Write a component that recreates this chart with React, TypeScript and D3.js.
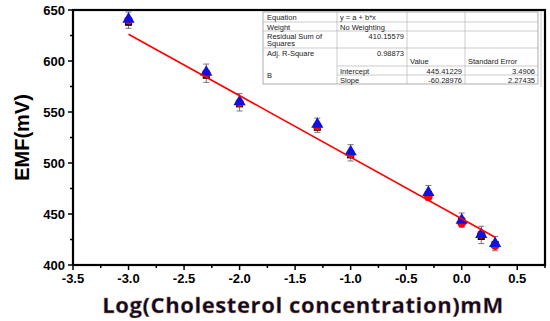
import * as d3 from "d3";

const logConc = [-3, -2.3, -2, -1.3, -1, -0.3, 0, 0.176, 0.301];
const emfBlack = [638, 586, 558, 535, 508, 469, 443, 428, 420];
const emfRed = [640, 588, 559, 536, 509, 467, 441, 430, 419];
const emfBlue = [642, 590, 561, 539, 512, 472, 445, 431, 422];
const errBars = [6, 7, 7, 5, 6, 6, 6, 7, 6];
const intercept = 445.41229;
const slope = -60.28976;
const xTicks = [-3.5, -3, -2.5, -2, -1.5, -1, -0.5, 0, 0.5];
const yTicks = [400, 450, 500, 550, 600, 650];

const W = 550, H = 321;
const L = 73, R = 545, T = 10, B = 265;

export default function App() {
  const x = d3.scaleLinear([-3.5, 0.75], [L, R]);
  const y = d3.scaleLinear([400, 650], [B, T]);
  const xMinor = d3.range(-3.5, 0.76, 0.25);
  const yMinor = d3.range(400, 651, 25);
  const tri = d3.symbol(d3.symbolTriangle, 65)();
  const sq = d3.symbol(d3.symbolSquare, 50)();
  const fitLine = d3.line<number>().x((d) => x(d)).y((d) => y(intercept + slope * d));

  const tx = 263, tw = 275;
  const cols = [tx, 337, 407, 465, tx + tw];
  const rows = [12, 22, 31, 48, 66, 75, 84];
  const fs = 7.5;
  const tf = "Liberation Sans, Arial, sans-serif";

  return (
    <svg width={W} height={H} style={{ position: "absolute", left: 0, top: 0, background: "#fff" }}>
      {/* error bars */}
      {logConc.map((c, i) => (
        <g key={"e" + i} stroke="#777" strokeWidth={1}>
          <line x1={x(c)} x2={x(c)} y1={y(emfBlue[i] + errBars[i])} y2={y(emfBlack[i] - errBars[i])} />
          <line x1={x(c) - 3} x2={x(c) + 3} y1={y(emfBlue[i] + errBars[i])} y2={y(emfBlue[i] + errBars[i])} />
          <line x1={x(c) - 3} x2={x(c) + 3} y1={y(emfBlack[i] - errBars[i])} y2={y(emfBlack[i] - errBars[i])} />
        </g>
      ))}
      {logConc.map((c, i) => (
        <path key={"k" + i} d={sq} transform={`translate(${x(c)},${y(emfBlack[i])})`} fill="#000" />
      ))}
      {logConc.map((c, i) => (
        <circle key={"r" + i} cx={x(c)} cy={y(emfRed[i])} r={4.3} fill="#f00" />
      ))}
      {logConc.map((c, i) => (
        <path key={"b" + i} d={tri} transform={`translate(${x(c)},${y(emfBlue[i]) + 1})`} fill="#1010e0" />
      ))}
      <path d={fitLine([-3, 0.301]) ?? ""} stroke="#f00" strokeWidth={1.6} fill="none" />

      {/* table */}
      <g fontFamily={tf} fontSize={fs} fill="#222">
        <rect x={tx} y={rows[0]} width={tw} height={rows[6] - rows[0]} fill="#fff" stroke="#999" strokeWidth={0.8} />
        <line x1={tx + tw + 3} x2={tx + tw + 3} y1={rows[0] - 1} y2={rows[6] + 3} stroke="#bbb" strokeWidth={0.8} />
        {[1, 2, 3].map((r) => (
          <line key={r} x1={tx} x2={tx + tw} y1={rows[r]} y2={rows[r]} stroke="#aaa" strokeWidth={0.6} />
        ))}
        <line x1={cols[1]} x2={tx + tw} y1={rows[4]} y2={rows[4]} stroke="#aaa" strokeWidth={0.6} />
        <line x1={cols[1]} x2={tx + tw} y1={rows[5]} y2={rows[5]} stroke="#aaa" strokeWidth={0.6} />
        {[1, 2, 3].map((c) => (
          <line key={c} x1={cols[c]} x2={cols[c]} y1={rows[0]} y2={rows[6]} stroke="#aaa" strokeWidth={0.6} />
        ))}
        <text x={tx + 4} y={rows[0] + 7.5}>Equation</text>
        <text x={tx + 4} y={rows[1] + 7.5}>Weight</text>
        <text x={tx + 4} y={rows[2] + 7.5}>Residual Sum of</text>
        <text x={tx + 4} y={rows[2] + 15}>Squares</text>
        <text x={tx + 4} y={rows[3] + 7.5}>Adj. R-Square</text>
        <text x={tx + 4} y={rows[5] + 3}>B</text>
        <text x={cols[1] + 3} y={rows[0] + 7.5}>y = a + b*x</text>
        <text x={cols[1] + 3} y={rows[1] + 7.5}>No Weighting</text>
        <text x={cols[2] - 3} y={rows[2] + 7.5} textAnchor="end">410.15579</text>
        <text x={cols[2] - 3} y={rows[3] + 7.5} textAnchor="end">0.98873</text>
        <text x={cols[2] + 3} y={rows[4] - 2.5}>Value</text>
        <text x={cols[3] + 3} y={rows[4] - 2.5}>Standard Error</text>
        <text x={cols[1] + 3} y={rows[4] + 7.5}>Intercept</text>
        <text x={cols[1] + 3} y={rows[5] + 7.5}>Slope</text>
        <text x={cols[3] - 3} y={rows[4] + 7.5} textAnchor="end">445.41229</text>
        <text x={cols[3] - 3} y={rows[5] + 7.5} textAnchor="end">-60.28976</text>
        <text x={cols[4] - 3} y={rows[4] + 7.5} textAnchor="end">3.4906</text>
        <text x={cols[4] - 3} y={rows[5] + 7.5} textAnchor="end">2.27435</text>
      </g>

      {/* frame */}
      <rect x={L} y={T} width={R - L} height={B - T} fill="none" stroke="#000" strokeWidth={2.2} />

      {/* ticks */}
      {xMinor.map((v, i) => (
        <line key={"xm" + i} x1={x(v)} x2={x(v)} y1={B} y2={B + (i % 2 === 0 ? 5 : 3)} stroke="#000" strokeWidth={1.5} />
      ))}
      {yMinor.map((v, i) => (
        <line key={"ym" + i} x1={L} x2={L - (i % 2 === 0 ? 5 : 3)} y1={y(v)} y2={y(v)} stroke="#000" strokeWidth={1.5} />
      ))}
      <g fontFamily="Liberation Sans, Arial, sans-serif" fontWeight="bold" fontSize={13} fill="#000">
        {xTicks.map((v) => (
          <text key={"xt" + v} x={x(v)} y={B + 18} textAnchor="middle">{d3.format(".1f")(v).replace("\u2212", "-")}</text>
        ))}
        {yTicks.map((v) => (
          <text key={"yt" + v} x={L - 8} y={y(v) + 5} textAnchor="end">{v}</text>
        ))}
      </g>
      <text x={22} y={(T + B) / 2} transform={`rotate(-90,22,${(T + B) / 2})`} textAnchor="middle" dy="0.35em"
        fontFamily="Liberation Sans, Arial, sans-serif" fontWeight="bold" fontSize={20} fill="#000">EMF(mV)</text>
      <text x={303} y={313} textAnchor="middle" fontFamily="Open Sans, sans-serif" fontWeight="700" fontSize={22}
        letterSpacing={0.6} fill="#0a0a30" stroke="#c07020" strokeWidth={0.3}>Log(Cholesterol concentration)mM</text>
    </svg>
  );
}
